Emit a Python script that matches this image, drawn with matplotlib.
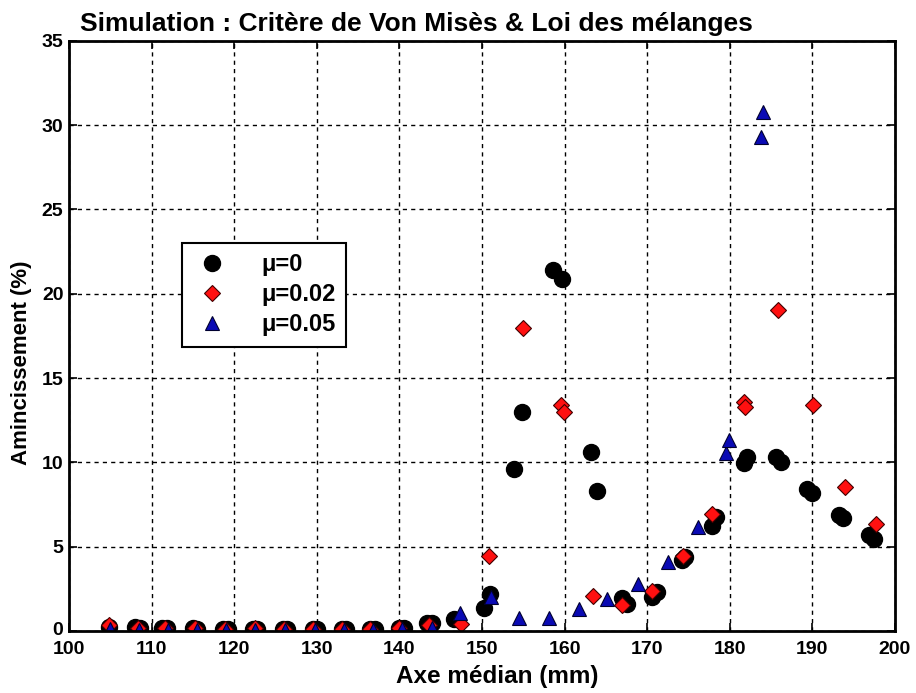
import matplotlib
matplotlib.use("Agg")
import matplotlib.pyplot as plt
import matplotlib.transforms as mtransforms

# --- data ---
x_mu0 = [104.8, 108.0, 108.6, 111.3, 111.9, 115.0, 115.5, 118.7, 119.2, 122.3,
         122.8, 125.9, 126.4, 129.5, 130.0, 133.0, 133.5, 136.5, 137.0, 140.0,
         140.6, 143.4, 144.0, 146.6, 150.2, 151.0, 153.9, 154.9, 158.6, 159.7,
         163.2, 163.9, 166.9, 167.6, 170.6, 171.2, 174.2, 174.6, 177.8, 178.3,
         181.7, 182.1, 185.6, 186.2, 189.4, 190.0, 193.2, 193.7, 196.9, 197.5]
y_mu0 = [0.25, 0.22, 0.2, 0.2, 0.18, 0.15, 0.13, 0.12, 0.12, 0.12,
         0.12, 0.12, 0.12, 0.12, 0.12, 0.12, 0.12, 0.12, 0.12, 0.15,
         0.2, 0.45, 0.5, 0.7, 1.39, 2.2, 9.6, 12.96, 21.4, 20.9,
         10.6, 8.33, 1.98, 1.6, 2.0, 2.3, 4.2, 4.4, 6.25, 6.74,
         9.96, 10.3, 10.3, 10.05, 8.43, 8.17, 6.89, 6.7, 5.7, 5.46]

x_mu002 = [104.8, 108.3, 111.6, 115.2, 118.9, 122.5, 126.0, 129.6, 133.1, 136.5,
           140.0, 143.6, 147.5, 150.9, 155.0, 159.6, 159.9, 163.4, 167.0, 170.6,
           174.4, 177.8, 181.7, 181.9, 185.9, 190.1, 193.9, 197.7]
y_mu002 = [0.35, 0.2, 0.2, 0.15, 0.12, 0.15, 0.12, 0.12, 0.12, 0.12,
           0.15, 0.35, 0.43, 4.46, 18.0, 13.4, 12.96, 2.08, 1.53, 2.38,
           4.47, 6.95, 13.6, 13.3, 19.05, 13.4, 8.53, 6.35]

x_mu005 = [105.0, 108.5, 112.0, 115.5, 119.0, 122.5, 126.2, 129.8, 133.3, 136.8,
           140.3, 143.9, 147.4, 151.1, 154.5, 158.1, 161.7, 165.2, 168.9, 172.5,
           176.1, 179.6, 179.9, 183.8, 184.0]
y_mu005 = [0.1, 0.08, 0.08, 0.07, 0.07, 0.07, 0.07, 0.07, 0.07, 0.07,
           0.1, 0.2, 1.09, 2.0, 0.79, 0.79, 1.29, 1.92, 2.78, 4.07,
           6.15, 10.55, 11.3, 29.27, 30.8]

x_ticks = list(range(100, 201, 10))
y_ticks = list(range(0, 36, 5))

plt.rcParams["font.family"] = ["Liberation Sans", "DejaVu Sans"]

fig = plt.figure(figsize=(9.16, 6.93), dpi=100)
ax = fig.add_axes([0.0753, 0.0895, 0.9017, 0.8515])

ax.plot(x_mu0, y_mu0, "o", color="black", markersize=11.5, label="\u03bc=0")
ax.plot(x_mu002, y_mu002, "D", color="#ff1010", markeredgecolor="#400000",
        markersize=8.5, markeredgewidth=0.8, label="\u03bc=0.02")
ax.plot(x_mu005, y_mu005, "^", color="#0a0ab4", markeredgecolor="#000030",
        markersize=10, markeredgewidth=0.8, label="\u03bc=0.05")

ax.set_xlim(100, 200)
ax.set_ylim(0, 35)
ax.set_xticks(x_ticks)
ax.set_yticks(y_ticks)
ax.grid(True, color="black", linestyle=(0, (3, 3)), linewidth=1.0)
ax.tick_params(direction="in", length=6, width=1.2, top=True, right=True,
               labelsize=14)
ax.tick_params(axis="x", pad=7)
ax.tick_params(axis="y", pad=4)
for lbl in ax.get_xticklabels() + ax.get_yticklabels():
    lbl.set_fontweight("bold")
for sp in ax.spines.values():
    sp.set_linewidth(2)

# nudge the "0" label up a little so it clears the "100" below it
zero_lbl = ax.get_yticklabels()[0]
zero_lbl.set_transform(zero_lbl.get_transform() +
                       mtransforms.ScaledTranslation(0, 2 / 72, fig.dpi_scale_trans))

ax.set_xlabel("Axe m\u00e9dian (mm)", fontsize=17.5, fontweight="bold", labelpad=0)
ax.xaxis.set_label_coords(0.518, -0.057)
ax.set_ylabel("Amincissement (%)", fontsize=16, fontweight="bold")
ax.yaxis.set_label_coords(-0.045, 0.454)
fig.text(0.087, 0.966, "Simulation : Crit\u00e8re de Von Mis\u00e8s & Loi des m\u00e9langes",
         fontsize=19, fontweight="bold", ha="left", va="center")

leg = ax.legend(loc="upper left", bbox_to_anchor=(0.137, 0.658), borderaxespad=0,
                fancybox=False, edgecolor="black", framealpha=1, fontsize=17,
                handletextpad=1.3, borderpad=0.45, labelspacing=0.3,
                handlelength=1.6, markerscale=1.0)
leg.get_frame().set_linewidth(1.5)
for t in leg.get_texts():
    t.set_fontweight("bold")

fig.savefig("out.png", dpi=100)
